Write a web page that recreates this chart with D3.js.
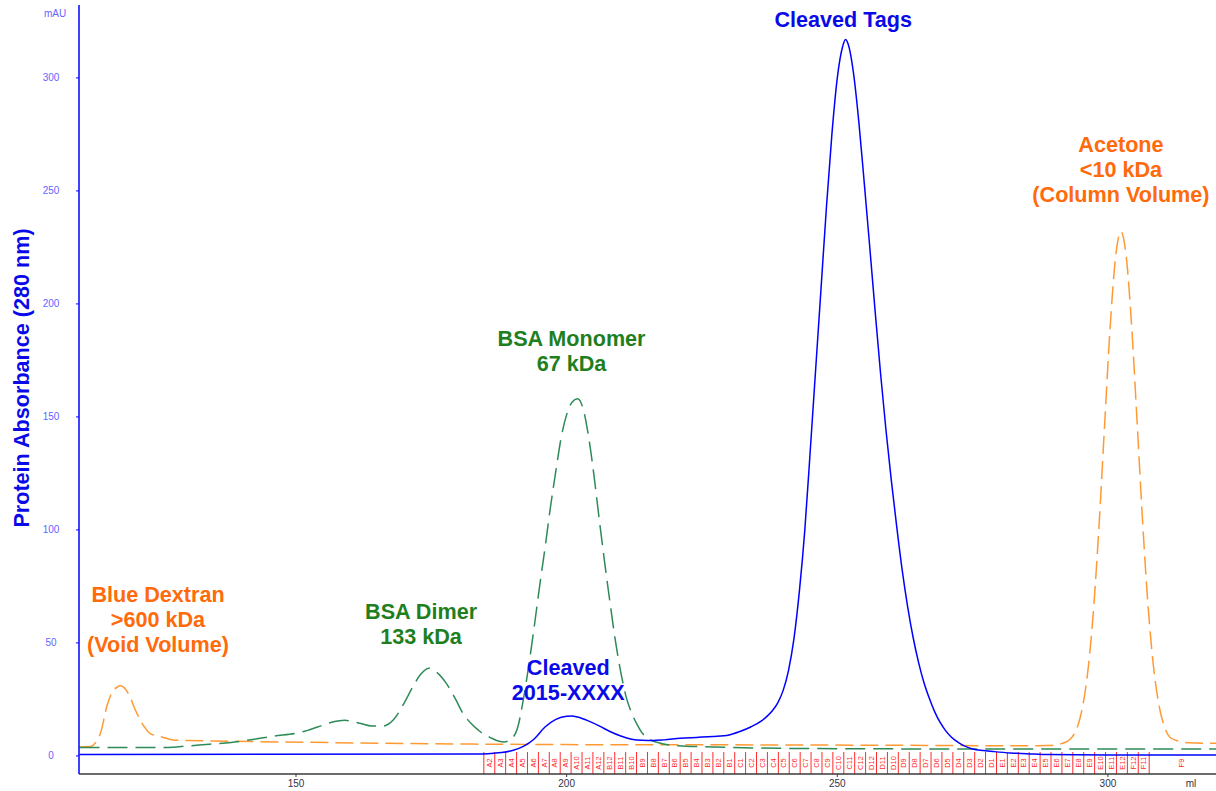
<!DOCTYPE html>
<html>
<head>
<meta charset="utf-8">
<script src="https://cdn.jsdelivr.net/npm/d3@7"></script>
<style>
  html, body { margin: 0; padding: 0; background: #ffffff; }
  svg { display: block; font-family: "Liberation Sans", Arial, sans-serif; }
</style>
</head>
<body>
<svg id="chart" width="1216" height="791"></svg>
<script>
// ---------------- DATA ----------------
// Sample trace: Cleaved 2015-XXXX (ml, mAU)
const sampleTrace = [[110,0.6],[184,0.8],[186,1.1],[188,1.5],[190,2.4],[192,4.2],[194,7.5],[196,12.8],[198,16.2],[200,17.6],
  [201,17.7],[202,17.2],[204,15.5],[206,13.3],[208,10.8],[210,8.8],[212,7.4],[214,6.9],[216,6.8],[218,7.1],
  [221,7.8],[224,8.2],[227,8.6],[230,9.3],[232,10.8],[234,12.8],[236,15.5],[237,17.5],[238,20],[239,23.5],
  [240,29],[241,38],[242,52],[243,73],[244,100],[245,135],[246,171],[247,207],[248,243],[249,275],[250,300],[251,314],
  [251.5,317],[252,315],[253,302],[254,280],[255,253],[256,225],[257,196.5],[258,169],[259,144],[260,121.5],[261,101],
  [262,82],[263,66],[264,52.5],[265,41.5],[266,32.5],[267,25.5],[268,19.5],[269,14.8],[270,11.2],[271,8.5],[272,6.5],
  [273,5.0],[274,3.9],[275,3.1],[277,2.4],[279,1.9],[282,1.3],[285,1.0],[289,0.6],[300,0.4],[320,0.4]];

// BSA standard trace (ml, mAU)
const bsaTrace = [[110,3.7],[120,3.7],[126,3.7],[130,4.4],[134,5.2],[138,5.9],[142,7.3],[146,8.8],[150,10.0],[152,11.2],
  [154,12.8],[156,14.5],[158,15.6],[159,15.8],[160,15.5],[162,14.3],[164,13.2],[166,13.2],[168,16],[170,23.5],
  [171.6,30.7],[173,36],[174.5,38.8],[176,37],[177.8,32],[179.5,25],[180.8,19],[182.5,14],[184,10.8],[186,8.0],
  [187.5,6.5],[188.5,6.2],[190,8],[191,13],[192,25],[193,40],[194,57],[195,75],[196,92],[197,110],[198,126],
  [199,141],[200,151],[201,156.5],[202,158],[203,154],[204,142],[205,125],[206,105],[207,86],[208,68],[209,51],
  [210,37],[211,26],[212,19],[213,14],[214,10],[215,7.8],[217,5.8],[219,4.8],[222,4.3],[227,4.0],[235,3.5],
  [250,3.2],[270,3.1],[320,3.1]];

// Blue Dextran / Acetone trace (ml, mAU)
const markerTrace = [[110,4.0],[112,4.2],[113,6],[114,11],[115,21.5],[116,28],[117,30.5],[117.6,31],[118.5,29.5],
  [119.3,26.3],[120.2,21],[121.2,16],[122,12.8],[123,10],[125.4,8.3],[127.3,7.0],[130,6.8],[135,6.6],[147,6.2],
  [165,5.6],[184,5.2],[200,5.0],[230,4.9],[260,4.7],[285,4.5],[289,4.6],[291,5.2],[292.4,6.3],[293.4,8.4],
  [294.4,13.1],[295.4,22.8],[296.4,39.9],[297.4,66.8],[298.4,103.8],[299.4,147.2],[300.4,189.4],[301.4,220.5],
  [302.4,232],[303.4,220.5],[304.4,189.4],[305.4,147.2],[306.4,103.8],[307.4,66.8],[308.4,39.9],[309.4,22.8],
  [310.4,13.1],[311.4,8.4],[312.7,6.8],[315,5.8],[320,5.6]];

// Axis ticks
const yTicks = [0, 50, 100, 150, 200, 250, 300];
const xTicks = [150, 200, 250, 300];

// Fraction collector marks
const fractionLabels = ["A2","A3","A4","A5","A6","A7","A8","A9","A10","A11","A12",
  "B12","B11","B10","B9","B8","B7","B6","B5","B4","B3","B2","B1",
  "C1","C2","C3","C4","C5","C6","C7","C8","C9","C10","C11","C12",
  "D12","D11","D10","D9","D8","D7","D6","D5","D4","D3","D2","D1",
  "E1","E2","E3","E4","E5","E6","E7","E8","E9","E10","E11","E12",
  "F12","F11"];
const fractionBounds = [184.70,186.72,188.73,190.75,192.76,194.78,196.79,198.81,200.82,202.84,204.85,206.87,
  208.88,210.90,212.91,214.93,216.94,218.96,220.97,222.99,225.00,227.02,229.03,231.05,233.06,235.08,237.09,
  239.11,241.12,243.14,245.15,247.17,249.18,251.20,253.21,255.23,257.24,259.26,261.27,263.29,265.30,267.32,
  269.33,271.35,273.36,275.38,277.39,279.41,281.42,283.44,285.45,287.47,289.48,291.50,293.51,295.53,297.54,
  299.56,301.57,303.59,305.60,307.62];
const wasteLabel = "F9";
const wasteVolume = 313.6;

// Peak annotations (text lines, anchor ml, anchor mAU)
const annotationTexts = [
  ["Cleaved Tags"],
  ["Acetone", "<10 kDa", "(Column Volume)"],
  ["BSA Monomer", "67 kDa"],
  ["BSA Dimer", "133 kDa"],
  ["Blue Dextran", ">600 kDa", "(Void Volume)"],
  ["Cleaved", "2015-XXXX"]
];
const annotationVolumes = [251.1, 302.4, 200.9, 173.1, 124.5, 200.3];
const annotationAbs = [322.6, 267.3, 181.4, 60.6, 68.1, 35.8];
const annotationKinds = ["sample", "marker", "bsa", "bsa", "marker", "sample"];

// ---------------- STYLE ----------------
const W = 1216, H = 791;
const colors = {
  sample: "#0000ff",
  sampleText: "#0a0ae8",
  marker: "#ff9a33",
  markerText: "#ff6a0a",
  bsa: "#2e8b57",
  bsaText: "#1f7f1f",
  fraction: "#ff2a2a",
  axisY: "#0000ff",
  yLabel: "#6464ff",
  axisX: "#3a3a3a"
};

const svg = d3.select("#chart");
svg.append("rect").attr("width", W).attr("height", H).attr("fill", "#fff");

const x = d3.scaleLinear().domain([110, 320]).range([79.5, 1216.2]);
const y = d3.scaleLinear().domain([-8, 332.7]).range([774, 4]);

const axisBottomY = 774;
const axisLeftX = 79;

// Fraction marks
const fracG = svg.append("g");
fracG.selectAll("line.frac").data(fractionBounds).enter().append("line")
  .attr("x1", d => x(d)).attr("x2", d => x(d))
  .attr("y1", 752).attr("y2", axisBottomY)
  .attr("stroke", colors.fraction).attr("stroke-width", 1);
fracG.selectAll("text.frac").data(fractionLabels).enter().append("text")
  .attr("transform", (d, i) => `translate(${x((fractionBounds[i] + fractionBounds[i + 1]) / 2) + 2.7},763) rotate(-90)`)
  .attr("text-anchor", "middle")
  .attr("font-size", 7.5)
  .attr("fill", colors.fraction)
  .text(d => d);
fracG.append("text")
  .attr("transform", `translate(${x(wasteVolume) + 2.7},763) rotate(-90)`)
  .attr("text-anchor", "middle").attr("font-size", 7.5).attr("fill", colors.fraction)
  .text(wasteLabel);

// Traces
const line = d3.line().x(d => x(d[0])).y(d => y(d[1])).curve(d3.curveMonotoneX);

svg.append("path").datum(markerTrace).attr("d", line)
  .attr("fill", "none").attr("stroke", colors.marker).attr("stroke-width", 1.5)
  .attr("stroke-dasharray", "18,7");
svg.append("path").datum(bsaTrace).attr("d", line)
  .attr("fill", "none").attr("stroke", colors.bsa).attr("stroke-width", 1.5)
  .attr("stroke-dasharray", "20,8");
svg.append("path").datum(sampleTrace).attr("d", line)
  .attr("fill", "none").attr("stroke", colors.sample).attr("stroke-width", 1.5);

// Y axis
const yAxisG = svg.append("g");
yAxisG.append("line").attr("x1", axisLeftX).attr("x2", axisLeftX).attr("y1", 5).attr("y2", axisBottomY)
  .attr("stroke", colors.axisY).attr("stroke-width", 1.5);
yAxisG.selectAll("line.tk").data(yTicks).enter().append("line")
  .attr("x1", axisLeftX - 3).attr("x2", axisLeftX).attr("y1", d => y(d)).attr("y2", d => y(d))
  .attr("stroke", colors.axisY).attr("stroke-width", 1);
yAxisG.selectAll("text.tk").data(yTicks).enter().append("text")
  .attr("x", 51).attr("y", d => y(d)).attr("dy", "0.35em")
  .attr("text-anchor", "middle").attr("font-size", 10).attr("fill", colors.yLabel)
  .text(d => d);
yAxisG.append("text").attr("x", 55).attr("y", 17).attr("text-anchor", "middle")
  .attr("font-size", 10).attr("fill", colors.yLabel).text("mAU");

// X axis
const xAxisG = svg.append("g");
xAxisG.append("line").attr("x1", axisLeftX).attr("x2", W).attr("y1", axisBottomY).attr("y2", axisBottomY)
  .attr("stroke", colors.axisX).attr("stroke-width", 1.5);
xAxisG.selectAll("line.tk").data(xTicks).enter().append("line")
  .attr("x1", d => x(d)).attr("x2", d => x(d)).attr("y1", axisBottomY).attr("y2", axisBottomY + 3)
  .attr("stroke", colors.axisX).attr("stroke-width", 1);
xAxisG.selectAll("text.tk").data(xTicks).enter().append("text")
  .attr("x", d => x(d)).attr("y", 787).attr("text-anchor", "middle")
  .attr("font-size", 10).attr("fill", "#333344").text(d => d);
xAxisG.append("text").attr("x", 1191).attr("y", 787).attr("text-anchor", "middle")
  .attr("font-size", 10).attr("fill", "#333344").text("ml");

// Y axis title
svg.append("text")
  .attr("transform", "translate(29,378) rotate(-90)")
  .attr("text-anchor", "middle").attr("font-size", 21.6).attr("font-weight", "bold")
  .attr("fill", colors.sampleText).text("Protein Absorbance (280 nm)");

// Annotations
annotationTexts.forEach((lines, i) => {
  const g = svg.append("text")
    .attr("text-anchor", "middle").attr("font-size", 21.6).attr("font-weight", "bold")
    .attr("fill", colors[annotationKinds[i] + "Text"]);
  lines.forEach((t, j) => {
    g.append("tspan").attr("x", x(annotationVolumes[i])).attr("y", y(annotationAbs[i]) + j * 25).text(t);
  });
});
</script>
</body>
</html>
